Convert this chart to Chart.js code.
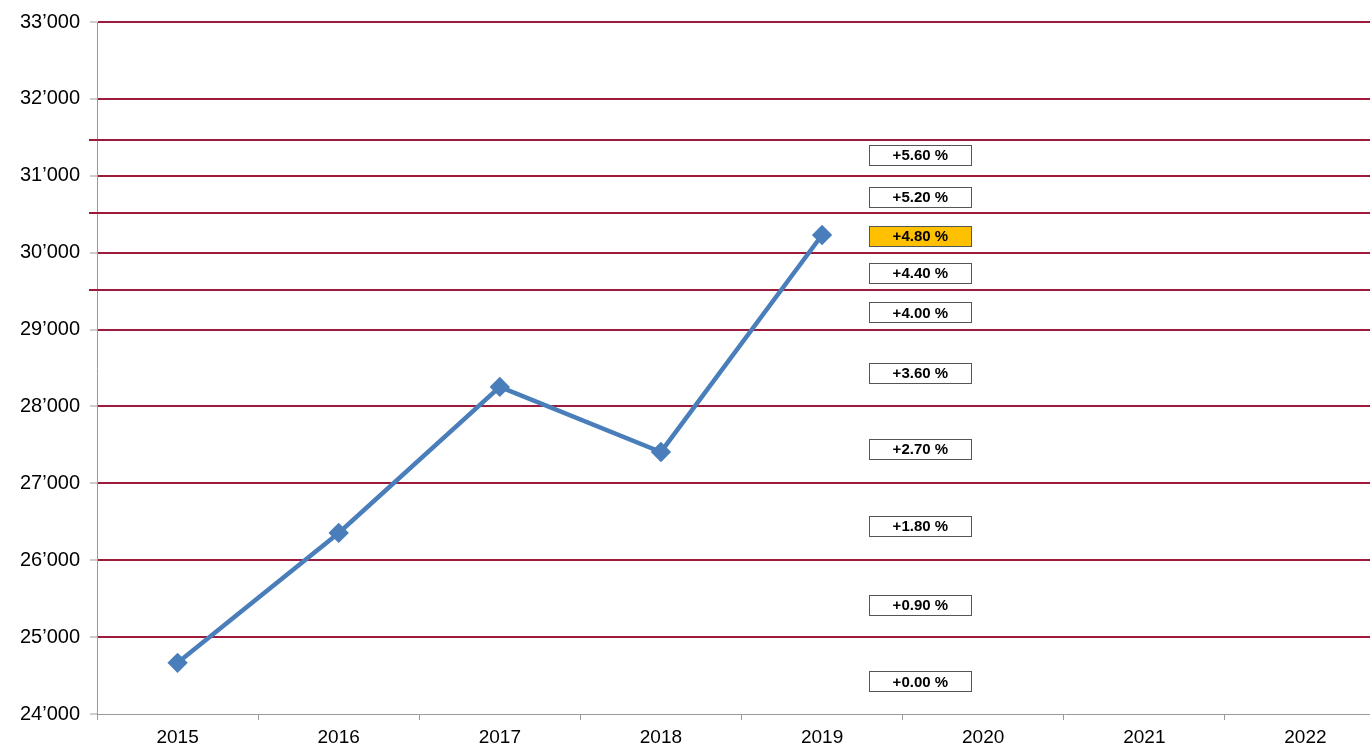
<!DOCTYPE html>
<html>
<head>
<meta charset="utf-8">
<script src="https://cdn.jsdelivr.net/npm/chart.js@4/dist/chart.umd.min.js"></script>
<style>
html,body{margin:0;padding:0;background:#fff;overflow:hidden;width:1370px;height:745px;}
#wrap{width:1370px;height:745px;position:relative;overflow:hidden;}
canvas{display:block;}
</style>
</head>
<body>
<div id="wrap"><canvas id="c" width="1386" height="745"></canvas></div>
<script>
const categories = ['2015','2016','2017','2018','2019','2020','2021','2022'];
const values = [24665, 26355, 28254, 27408, 30230, null, null, null];
const extraLines = [31470, 30520, 29520];
const boxLabels = ['+5.60 %','+5.20 %','+4.80 %','+4.40 %','+4.00 %','+3.60 %','+2.70 %','+1.80 %','+0.90 %','+0.00 %'];
const boxValues = [31270, 30724, 30217, 29736, 29222, 28435, 27447, 26445, 25424, 24423];
const boxHighlight = '+4.80 %';
const boxCategoryPos = 4.61;

const RED = '#9c1a3a';
const GREY = '#9a9a9a';
const FONT = '"Liberation Sans", Arial, sans-serif';

const overlay = {
  id: 'overlay',
  beforeDatasetsDraw(chart) {
    const ctx = chart.ctx, y = chart.scales.y, a = chart.chartArea;
    ctx.save();
    ctx.strokeStyle = RED;
    ctx.lineWidth = 2;
    extraLines.forEach(v => {
      const py = Math.round(y.getPixelForValue(v));
      ctx.beginPath();
      ctx.moveTo(a.left - 8, py);
      ctx.lineTo(a.right, py);
      ctx.stroke();
    });
    ctx.restore();
  },
  afterDraw(chart) {
    const ctx = chart.ctx, x = chart.scales.x, y = chart.scales.y;
    const cx = x.getPixelForValue(boxCategoryPos);
    const w = 102, h = 20;
    ctx.save();
    ctx.font = 'bold 15px ' + FONT;
    ctx.textAlign = 'center';
    ctx.textBaseline = 'middle';
    boxLabels.forEach((lab, i) => {
      const cy = y.getPixelForValue(boxValues[i]);
      const bx = Math.round(cx - w / 2) + 0.5, by = Math.round(cy - h / 2) + 0.5;
      ctx.fillStyle = lab === boxHighlight ? '#ffc000' : '#ffffff';
      ctx.fillRect(bx, by, w, h);
      ctx.strokeStyle = '#555555';
      ctx.lineWidth = 1;
      ctx.strokeRect(bx, by, w, h);
      ctx.fillStyle = '#000';
      ctx.fillText(lab, cx, cy + 1);
    });
    ctx.restore();
  }
};

new Chart(document.getElementById('c'), {
  type: 'line',
  data: {
    labels: categories,
    datasets: [{
      data: values,
      borderColor: '#4a7ebb',
      backgroundColor: '#4a7ebb',
      borderWidth: 4.5,
      pointStyle: 'rectRot',
      pointRadius: 7,
      pointHoverRadius: 7,
      tension: 0,
      spanGaps: false
    }]
  },
  options: {
    responsive: false,
    animation: false,
    layout: { autoPadding: false, padding: { top: 22, right: 0, left: 0, bottom: 0 } },
    plugins: { legend: { display: false }, tooltip: { enabled: false } },
    scales: {
      x: {
        offset: true,
        afterFit(s) { s.height = 31; s.paddingLeft = 0; s.paddingRight = 0; },
        grid: { display: true, drawOnChartArea: false, drawTicks: true, tickLength: 6, color: GREY, offset: true },
        border: { color: GREY, width: 1 },
        ticks: { color: '#000', font: { family: FONT, size: 19 }, padding: 6, maxRotation: 0, autoSkip: false }
      },
      y: {
        min: 24000, max: 33000,
        afterFit(s) { s.width = 97; },
        grid: {
          color: c => (c.tick && c.tick.value === 24000) ? 'rgba(0,0,0,0)' : RED,
          lineWidth: 2,
          tickColor: GREY,
          tickLength: 7,
          tickWidth: 1
        },
        border: { color: GREY, width: 1 },
        ticks: {
          stepSize: 1000,
          padding: 10,
          color: '#000',
          font: { family: FONT, size: 20 },
          callback: v => String(Math.floor(v / 1000)) + '\u2019' + String(v % 1000).padStart(3, '0')
        }
      }
    }
  },
  plugins: [overlay]
});
</script>
</body>
</html>
